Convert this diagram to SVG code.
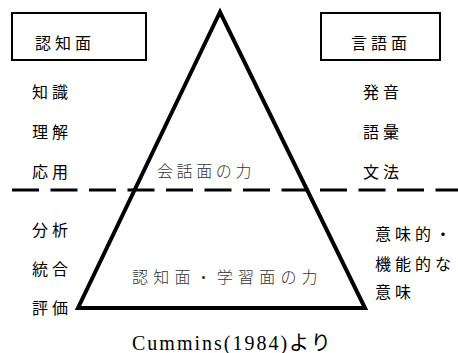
<svg xmlns="http://www.w3.org/2000/svg" width="458" height="353" viewBox="0 0 458 353">
<style>
.box{fill:none;stroke:#000;stroke-width:2}
.lbl{font-family:"Noto Sans CJK JP","Noto Sans",sans-serif;font-size:16px;fill:#000;letter-spacing:4px}
.cen{font-family:"Noto Sans CJK JP","Noto Sans",sans-serif;font-size:16px;fill:#333;font-weight:300}
.cap{font-family:"Liberation Serif","Noto Sans CJK JP",serif;font-size:20px;fill:#000;letter-spacing:2px}
</style>
<rect width="458" height="353" fill="#fff"/>
<g id="connectors">
<line x1="12" y1="190" x2="458" y2="190" stroke="#000" stroke-width="3" stroke-dasharray="27 11.5"/>
</g>
<g id="triangle">
<polygon points="220,12 78,308 365,308" fill="none" stroke="#000" stroke-width="4" stroke-linejoin="miter"/>
<text class="cen" x="157" y="177" letter-spacing="3.6">会話面の力</text>
<text class="cen" x="132" y="283" letter-spacing="5.2">認知面・学習面の力</text>
</g>
<g id="cognitive">
<rect class="box" x="12" y="13" width="134" height="47"/>
<text class="lbl" x="35" y="49">認知面</text>
</g>
<g id="linguistic">
<rect class="box" x="321" y="13" width="119" height="47"/>
<text class="lbl" x="351" y="49">言語面</text>
</g>
<g id="left-items">
<text class="lbl" x="32" y="98">知識</text>
<text class="lbl" x="32" y="138">理解</text>
<text class="lbl" x="32" y="178">応用</text>
<text class="lbl" x="32" y="236">分析</text>
<text class="lbl" x="32" y="275">統合</text>
<text class="lbl" x="32" y="314">評価</text>
</g>
<g id="right-items">
<text class="lbl" x="363" y="98">発音</text>
<text class="lbl" x="363" y="138">語彙</text>
<text class="lbl" x="363" y="178">文法</text>
<text class="lbl" x="375" y="240">意味的・</text>
<text class="lbl" x="375" y="270">機能的な</text>
<text class="lbl" x="375" y="298">意味</text>
</g>
<g id="caption">
<text class="cap" x="132" y="350">Cummins(1984)より</text>
</g>
</svg>
